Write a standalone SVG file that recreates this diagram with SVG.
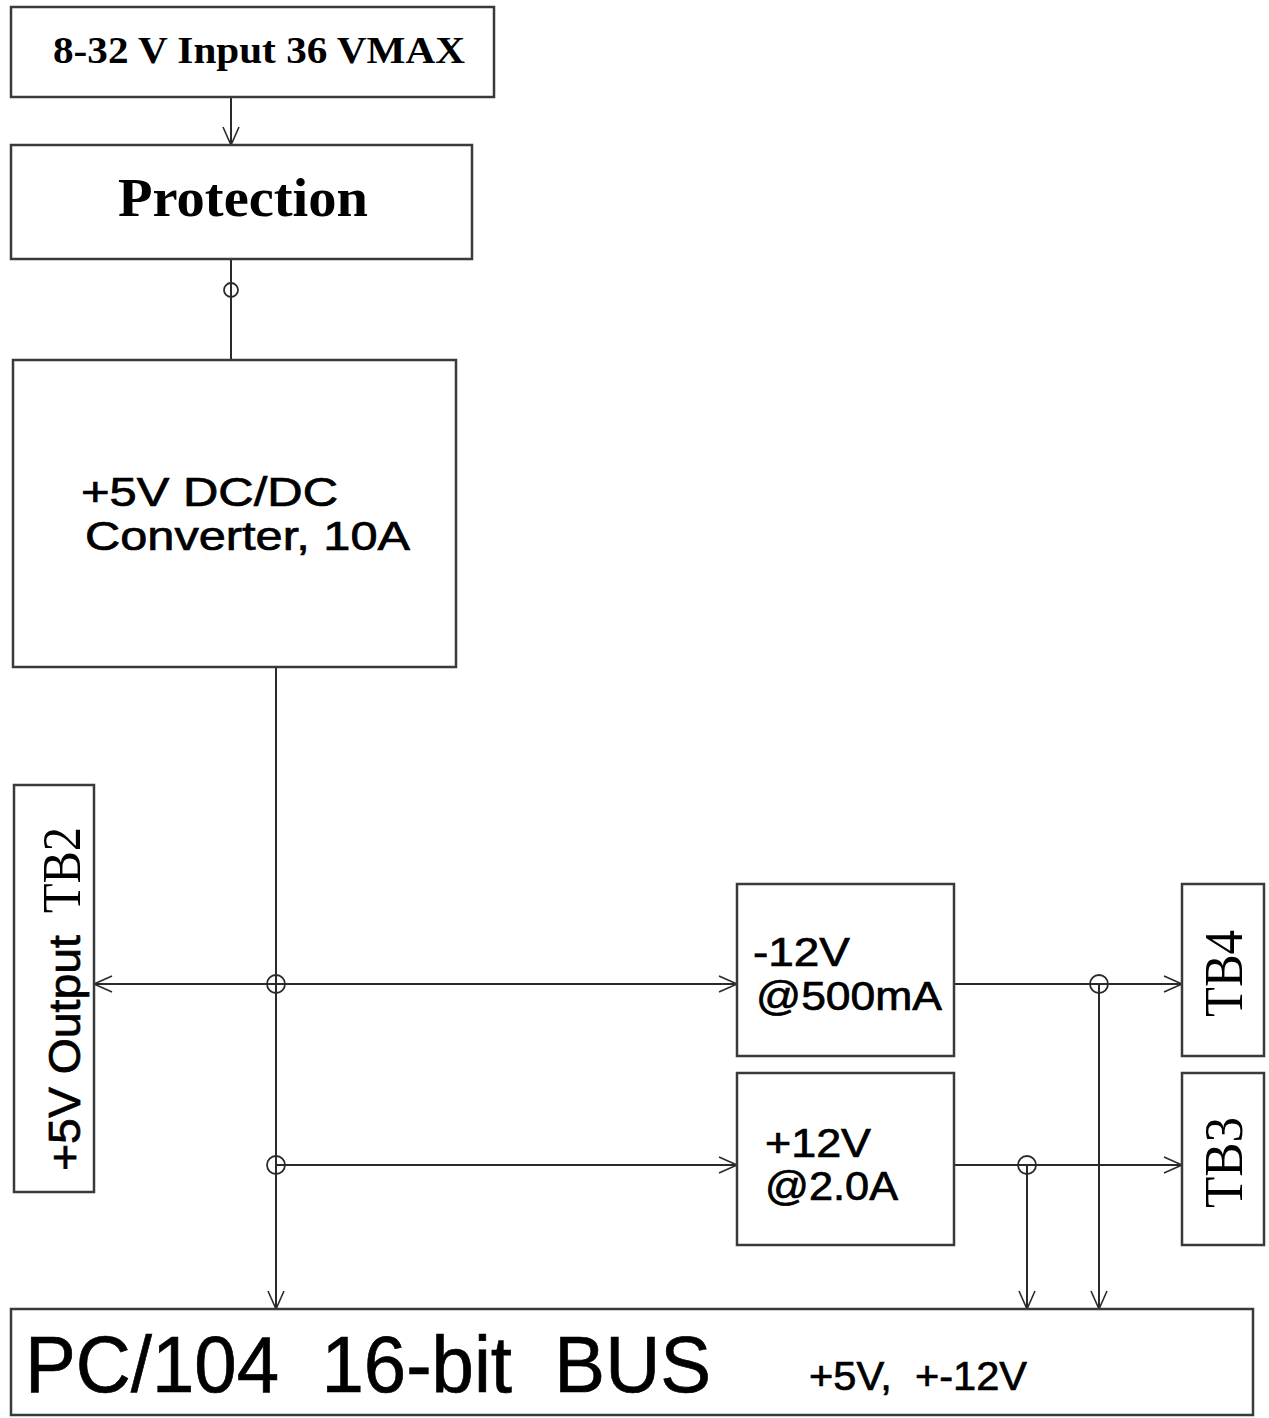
<svg xmlns="http://www.w3.org/2000/svg" width="1269" height="1418" viewBox="0 0 1269 1418">
<style>
.box{fill:#fff;stroke:#3a3a3a;stroke-width:2.5}
.ln{fill:none;stroke:#2a2a2a;stroke-width:2}
.jn{fill:none;stroke:#2a2a2a;stroke-width:1.8}
.serif{font-family:"Liberation Serif","Times New Roman",serif;fill:#000}
.sans{font-family:"Liberation Sans",Arial,sans-serif;fill:#000;stroke:#000;stroke-width:0.7}
</style>
<defs>
<marker id="arr" markerUnits="userSpaceOnUse" markerWidth="24" markerHeight="20" refX="20" refY="10" orient="auto">
<path d="M2,2 L20,10 L2,18" fill="none" stroke="#2a2a2a" stroke-width="1.6"/>
</marker>
</defs>
<rect width="1269" height="1418" fill="#fff"/>

<g id="connectors">
<line class="ln" x1="231" y1="97" x2="231" y2="145" marker-end="url(#arr)"/>
<line class="ln" x1="231" y1="259" x2="231" y2="360" stroke-width="3"/>
<circle class="jn" cx="231" cy="290" r="7"/>
<line class="ln" x1="276" y1="667" x2="276" y2="1309" marker-end="url(#arr)"/>
<line class="ln" x1="276" y1="984" x2="94" y2="984" marker-end="url(#arr)"/>
<line class="ln" x1="276" y1="984" x2="737" y2="984" marker-end="url(#arr)"/>
<circle class="jn" cx="276" cy="984" r="9"/>
<line class="ln" x1="276" y1="1165" x2="737" y2="1165" marker-end="url(#arr)"/>
<circle class="jn" cx="276" cy="1165" r="9"/>
<line class="ln" x1="954" y1="984" x2="1182" y2="984" marker-end="url(#arr)"/>
<line class="ln" x1="1099" y1="984" x2="1099" y2="1309" marker-end="url(#arr)"/>
<circle class="jn" cx="1099" cy="984" r="9"/>
<line class="ln" x1="954" y1="1165" x2="1182" y2="1165" marker-end="url(#arr)"/>
<line class="ln" x1="1027" y1="1165" x2="1027" y2="1309" stroke-width="3.2" marker-end="url(#arr)"/>
<circle class="jn" cx="1027" cy="1165" r="9"/>
</g>

<g id="input">
<rect class="box" x="11" y="7" width="483" height="90"/>
<text class="serif" x="53" y="63" font-size="37" font-weight="bold" textLength="412" lengthAdjust="spacingAndGlyphs">8-32 V Input 36 VMAX</text>
</g>

<g id="protection">
<rect class="box" x="11" y="145" width="461" height="114"/>
<text class="serif" x="118" y="216" font-size="55" font-weight="bold" textLength="250" lengthAdjust="spacingAndGlyphs">Protection</text>
</g>

<g id="converter">
<rect class="box" x="13" y="360" width="443" height="307"/>
<text class="sans" x="81" y="506" font-size="40" textLength="257" lengthAdjust="spacingAndGlyphs">+5V DC/DC</text>
<text class="sans" x="85" y="550" font-size="40" textLength="325" lengthAdjust="spacingAndGlyphs">Converter, 10A</text>
</g>

<g id="tb2">
<rect class="box" x="14" y="785" width="80" height="407"/>
<text class="sans" transform="translate(80,1171) rotate(-90)" x="0" y="0" font-size="44" textLength="236" lengthAdjust="spacingAndGlyphs">+5V Output</text>
<text class="serif" transform="translate(80,913) rotate(-90)" x="0" y="0" font-size="54" textLength="86" lengthAdjust="spacingAndGlyphs">TB2</text>
</g>

<g id="neg12">
<rect class="box" x="737" y="884" width="217" height="172"/>
<text class="sans" x="753" y="966" font-size="40" textLength="97" lengthAdjust="spacingAndGlyphs">-12V</text>
<text class="sans" x="756" y="1010" font-size="40" textLength="186" lengthAdjust="spacingAndGlyphs">@500mA</text>
</g>

<g id="pos12">
<rect class="box" x="737" y="1073" width="217" height="172"/>
<text class="sans" x="765" y="1157" font-size="40" textLength="106" lengthAdjust="spacingAndGlyphs">+12V</text>
<text class="sans" x="765" y="1200" font-size="40" textLength="133" lengthAdjust="spacingAndGlyphs">@2.0A</text>
</g>

<g id="tb4">
<rect class="box" x="1182" y="884" width="82" height="172"/>
<text class="serif" transform="translate(1242,1017) rotate(-90)" x="0" y="0" font-size="54" textLength="87" lengthAdjust="spacingAndGlyphs">TB4</text>
</g>

<g id="tb3">
<rect class="box" x="1182" y="1073" width="82" height="172"/>
<text class="serif" transform="translate(1242,1208) rotate(-90)" x="0" y="0" font-size="54" textLength="91" lengthAdjust="spacingAndGlyphs">TB3</text>
</g>

<g id="bus">
<rect class="box" x="11" y="1309" width="1242" height="106"/>
<text class="sans" x="25" y="1392" font-size="80" textLength="686" lengthAdjust="spacingAndGlyphs" xml:space="preserve">PC/104  16-bit  BUS</text>
<text class="sans" x="809" y="1390" font-size="40" textLength="218" lengthAdjust="spacingAndGlyphs" xml:space="preserve">+5V,  +-12V</text>
</g>
</svg>
